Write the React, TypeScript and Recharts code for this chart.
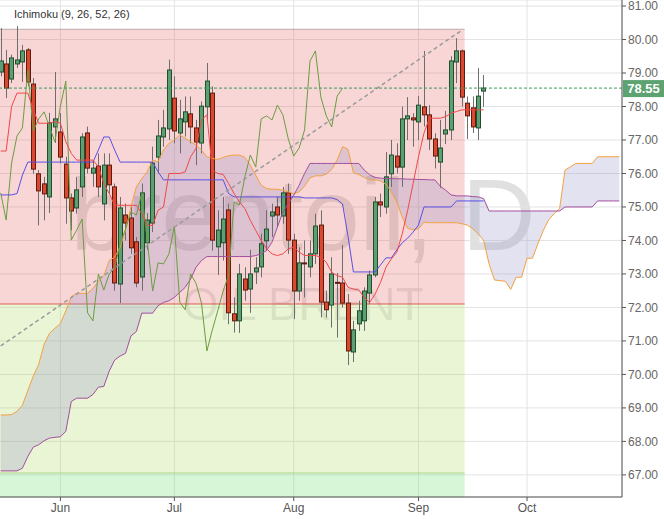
import {
  ComposedChart,
  Bar,
  Line,
  Area,
  XAxis,
  YAxis,
  CartesianGrid,
  ReferenceArea,
  ReferenceLine,
} from 'recharts';

// month ticks sit on the trading-day index of the first session of each month
const monthTicks = [11, 32, 54, 77, 97];
const monthLabels = ['Jun', 'Jul', 'Aug', 'Sep', 'Oct'];
const priceTicks = [67, 68, 69, 70, 71, 72, 73, 74, 75, 76, 77, 78, 79, 80, 81];

const opens = [
  79.03, 79.27, 78.82, 79.27, 79.33, 79.69, 78.67, 75.99, 75.69, 75.3,
  77.39, 77.24, 76.28, 75.27, 74.97, 75.6, 77.21, 76.01, 76.22, 75.09,
  76.25, 75.6, 72.7, 74.76, 74.67, 73.96, 72.91, 73.93, 74.52, 76.49,
  77.09, 77.33, 78.25, 77.21, 77.54, 77.78, 77.36, 76.91, 77.99, 78.4,
  73.81, 73.93, 74.91, 71.81, 71.6, 72.85, 72.55, 73.06, 73.21, 73.99,
  74.73, 75.0, 74.73, 75.42, 74.01, 72.49, 73.33, 73.21, 73.6, 74.46,
  72.16, 72.07, 72.75, 72.73, 72.13, 70.67, 71.51, 71.6, 72.43, 72.97,
  75.15, 75.0, 75.99, 76.52, 76.19, 77.63, 77.66, 77.54, 77.99, 77.75,
  77.03, 76.34, 77.18, 77.3, 79.33, 79.66, 78.1, 77.96, 77.36, 78.46,
];
const highs = [
  80.34, 79.69, 79.55, 80.4, 79.84, 79.75, 78.85, 76.1, 75.9, 77.81,
  79.03, 77.8, 76.5, 75.4, 75.9, 77.2, 77.4, 76.4, 76.6, 76.6,
  76.6, 75.7, 75.3, 75.1, 75.0, 74.1, 75.7, 74.82, 76.8, 77.6,
  77.9, 79.4, 78.9, 78.2, 78.3, 78.3, 77.6, 78.15, 79.3, 78.6,
  74.9, 75.3, 75.1, 72.3, 73.3, 73.2, 73.72, 73.5, 74.2, 74.9,
  75.1, 75.3, 75.6, 75.7, 74.2, 73.8, 74.0, 74.0, 74.8, 74.9,
  72.5, 73.5, 73.03, 73.87, 72.4, 71.6, 72.2, 72.6, 73.1, 75.3,
  75.4, 76.64, 77.0, 76.9, 78.0, 78.28, 77.8, 78.31, 79.66, 78.04,
  77.2, 77.6, 77.87, 79.5, 80.04, 79.7, 78.3, 78.3, 79.15, 78.94,
];
const lows = [
  78.9, 78.25, 78.7, 79.15, 78.73, 78.6, 75.99, 74.45, 74.6, 74.82,
  76.91, 76.3, 74.5, 74.3, 74.8, 75.3, 76.0, 75.6, 75.3, 74.6,
  75.4, 72.5, 72.13, 74.0, 73.6, 72.6, 72.5, 73.72, 74.25, 76.0,
  76.8, 77.0, 76.9, 76.6, 77.1, 76.9, 76.25, 76.6, 77.6, 73.7,
  72.97, 73.4, 71.5, 71.25, 71.24, 72.2, 71.84, 72.7, 72.9, 73.7,
  74.1, 74.4, 74.5, 73.6, 71.65, 72.2, 72.3, 72.9, 73.3, 71.7,
  71.7, 71.4, 71.1, 72.0, 70.28, 70.37, 71.3, 71.3, 72.1, 72.9,
  74.7, 74.8, 75.6, 76.0, 75.6, 77.0, 76.8, 77.0, 77.4, 76.7,
  76.15, 75.57, 76.88, 77.0, 78.7, 78.0, 77.03, 77.21, 77.0, 77.99,
];
const closes = [
  79.36, 78.55, 79.45, 79.39, 79.66, 78.73, 76.13, 75.48, 75.39, 77.51,
  77.63, 76.49, 75.27, 74.88, 75.51, 77.09, 76.16, 76.16, 75.6, 76.25,
  75.66, 72.73, 74.97, 74.52, 73.78, 72.73, 75.42, 74.61, 76.31, 77.12,
  77.36, 79.09, 77.27, 77.63, 77.84, 77.39, 76.94, 78.01, 78.76, 74.01,
  74.31, 74.64, 71.84, 71.6, 73.0, 72.52, 73.0, 73.18, 73.9, 74.34,
  74.85, 74.76, 75.42, 74.01, 72.49, 73.33, 73.3, 73.6, 74.43, 72.16,
  71.93, 73.0, 72.72, 72.13, 70.7, 71.33, 71.9, 72.49, 72.97, 75.15,
  75.06, 75.9, 76.55, 76.19, 77.63, 77.72, 77.6, 78.04, 77.75, 77.03,
  76.52, 76.76, 77.3, 79.36, 79.66, 78.28, 77.72, 77.39, 78.31, 78.55,
];

// conversion line (9)
const tenkan = [
  76.67, 76.67, 78.0, 78.4, 78.4, 78.4, 77.9, 77.5, 77.5, 77.5,
  77.55, 77.5, 76.95, 76.6, 76.4, 76.4, 76.4, 76.4, 76.2, 75.7,
  75.4, 75.05, 75.05, 75.05, 75.05, 75.05, 74.8, 74.45, 74.45, 74.9,
  75.0, 76.0, 76.0, 76.0, 76.05, 76.5, 76.75, 77.6, 77.75, 76.1,
  76.0, 75.97, 75.7, 75.4, 75.15, 74.95, 74.6, 74.3, 74.0, 73.75,
  73.6, 73.55, 73.6, 73.75, 73.8, 73.65, 73.55, 73.55, 73.55, 73.5,
  73.35, 73.05, 72.95, 72.9, 72.6, 72.55, 72.52, 72.3, 72.15, 72.4,
  72.75, 73.2, 73.45, 73.65, 74.2, 74.9, 75.7, 76.5, 77.2, 77.65,
  77.65, 77.65, 77.7, 77.8, 77.85, 77.9, 77.9, 77.9, 77.9, 77.9,
];
// base line (26)
const kijun = [
  75.36, 75.36, 75.36, 75.4, 75.95, 76.34, 76.34, 76.34, 76.34, 76.34,
  76.34, 76.34, 76.34, 76.34, 76.34, 76.34, 76.34, 76.34, 76.7, 77.09,
  77.09, 76.7, 76.34, 76.34, 76.34, 76.34, 76.34, 76.34, 76.34, 76.05,
  75.81, 75.81, 75.81, 75.81, 75.81, 75.81, 75.81, 75.81, 75.81, 75.81,
  75.81, 75.81, 75.4, 75.3, 75.3, 75.3, 75.3, 75.3, 75.3, 75.3,
  75.3, 75.3, 75.3, 75.3, 75.3, 75.3, 75.27, 75.27, 75.27, 75.27,
  75.27, 75.27, 75.22, 75.09, 74.13, 73.06, 73.06, 73.06, 73.06, 73.06,
  73.27, 73.48, 73.48, 73.72, 73.93, 74.07, 74.25, 74.46, 75.0, 75.0,
  75.0, 75.0, 75.0, 75.0, 75.18, 75.18, 75.18, 75.18, 75.18, 75.18,
];
// lagging span, drawn 26 sessions back
const chikou = [
  75.42, 74.61, 76.31, 77.12, 77.36, 79.09, 77.27, 77.63, 77.84, 77.39,
  76.94, 78.01, 78.76, 74.01, 74.31, 74.64, 71.84, 71.6, 73.0, 72.52,
  73.0, 73.18, 73.9, 74.34, 74.85, 74.76, 75.42, 74.01, 72.49, 73.33,
  73.3, 73.6, 74.43, 72.16, 71.93, 73.0, 72.72, 72.13, 70.7, 71.33,
  71.9, 72.49, 72.97, 75.15, 75.06, 75.9, 76.55, 76.19, 77.63, 77.72,
  77.6, 78.04, 77.75, 77.03, 76.52, 76.76, 77.3, 79.36, 79.66, 78.28,
  77.72, 77.39, 78.31, 78.55,
];
// leading spans, 26 sessions ahead
const senkouA = [
  68.79, 68.79, 68.8, 68.9, 69.08, 69.52, 69.95, 70.3, 70.9, 71.23,
  71.38, 71.52, 71.9, 72.32, 72.42, 72.42, 72.42, 72.57, 72.78, 72.95,
  73.4, 73.5, 73.8, 74.3, 75.0, 75.6, 75.85, 76.05, 76.4, 76.35,
  76.7, 76.9, 77.0, 77.15, 77.05, 76.95, 76.85, 76.7, 76.5, 76.45,
  76.42, 76.48, 76.53, 76.55, 76.55, 76.48, 76.25, 75.95, 75.65, 75.55,
  75.53, 75.53, 75.5, 75.45, 75.4, 75.45, 75.62, 75.87, 75.93, 75.93,
  75.98, 76.12, 76.4, 76.8, 76.72, 76.02, 75.97, 75.88, 75.81, 75.81,
  75.78, 75.68, 75.45, 75.15, 74.7, 74.36, 74.32, 74.35, 74.55, 74.53,
  74.53, 74.53, 74.53, 74.53, 74.53, 74.5, 74.46, 74.35, 74.2, 74.0,
  73.3, 72.82, 72.8, 72.78, 72.54, 72.9, 72.9, 73.47, 73.47, 73.9,
  74.3, 74.62, 74.8, 74.95, 76.1, 76.2, 76.3, 76.3, 76.3, 76.3,
  76.5, 76.5, 76.5, 76.5, 76.5,
];
const senkouB = [
  67.12, 67.12, 67.12, 67.12, 67.2, 67.55, 67.83, 67.9, 68.02, 68.1,
  68.12, 68.14, 68.3, 69.19, 69.29, 69.29, 69.29, 69.4, 69.62, 69.64,
  70.1, 70.43, 70.55, 70.63, 71.15, 71.28, 71.83, 71.83, 71.83, 72.05,
  72.15, 72.2, 72.3, 72.45, 72.6, 72.85, 73.2, 73.4, 73.52, 73.52,
  73.52, 73.52, 73.52, 73.52, 73.52, 73.52, 73.52, 73.55, 73.6, 73.7,
  73.95, 74.4, 74.85, 75.1, 75.35, 75.65, 76.0, 76.3, 76.3, 76.3,
  76.3, 76.3, 76.3, 76.3, 76.3, 76.3, 76.3, 76.1, 75.96, 75.88,
  75.86, 75.85, 75.85, 75.84, 75.84, 75.83, 75.83, 75.82, 75.82, 75.81,
  75.81, 75.62, 75.5, 75.36, 75.33, 75.33, 75.33, 75.31, 75.3, 75.25,
  74.88, 74.88, 74.88, 74.88, 74.88, 74.88, 74.88, 74.88, 74.88, 74.88,
  74.88, 74.88, 74.88, 74.88, 75.0, 75.0, 75.0, 75.0, 75.0, 75.0,
  75.18, 75.18, 75.18, 75.18, 75.18,
];

const lastPrice = 78.55;
// drawn objects: zones end on this session, prices of their borders
const zoneEnd = 85;
const zoneTop = 80.31;
const zoneMid = 72.1;
const zoneLow = 67.06;
const trendStart = 70.85;
const trendEnd = 80.28;
const yMin = 66.34;
const yMax = 81.18;

const data = senkouA.map((a, i) => ({
  i,
  open: opens[i],
  high: highs[i],
  low: lows[i],
  close: closes[i],
  range: highs[i] !== undefined ? [lows[i], highs[i]] : undefined,
  tenkan: tenkan[i],
  kijun: kijun[i],
  chikou: chikou[i],
  spanA: a,
  spanB: senkouB[i],
  cloud: [senkouB[i], a],
}));

const Candle = (props: any) => {
  const { x, y, width, height } = props;
  const d = props.payload || props;
  if (d.high === undefined || height === undefined) return null;
  const top = Math.min(y, y + height);
  const h = Math.abs(height);
  const k = d.high === d.low ? 0 : h / (d.high - d.low);
  const cx = Math.round(x + width / 2) + 0.5;
  const py = (v: number) => top + (d.high - v) * k;
  const up = d.close >= d.open;
  const bodyTop = py(Math.max(d.open, d.close));
  const bodyH = Math.max(py(Math.min(d.open, d.close)) - bodyTop, 1);
  return (
    <g>
      <line x1={cx} x2={cx} y1={top} y2={top + h} stroke="#6e6e6e" strokeWidth={1} />
      <rect
        x={cx - 2}
        y={bodyTop}
        width={4}
        height={bodyH}
        fill={up ? '#5d9f72' : '#d9482f'}
        stroke={up ? '#1f4f2c' : '#5e1c10'}
        strokeWidth={1}
      />
    </g>
  );
};

const PriceTag = (props: any) => {
  const vb = props.viewBox;
  if (!vb) return null;
  const x = vb.x + vb.width + 1;
  return (
    <g>
      <rect x={x} y={vb.y - 8} width={41} height={17} fill="#5da271" />
      <text x={x + 20.5} y={vb.y + 4.5} textAnchor="middle" fill="#fff" fontSize={13} fontWeight="bold">
        {lastPrice.toFixed(2)}
      </text>
    </g>
  );
};

export default function App() {
  return (
    <div
      style={{
        position: 'absolute',
        left: 0,
        top: 0,
        width: 664,
        height: 519,
        background: '#fff',
        overflow: 'hidden',
        fontFamily: 'Arial, "Liberation Sans", sans-serif',
      }}
    >
      <div
        style={{
          position: 'absolute',
          left: 0,
          top: 164,
          width: 606,
          textAlign: 'center',
          fontSize: 102,
          lineHeight: 1,
          color: 'rgba(0,0,0,0.12)',
          whiteSpace: 'nowrap',
        }}
      >
        brentoil, D
      </div>
      <div
        style={{
          position: 'absolute',
          left: 0,
          top: 281,
          width: 606,
          textAlign: 'center',
          fontSize: 46,
          lineHeight: 1,
          color: 'rgba(0,0,0,0.1)',
          whiteSpace: 'nowrap',
        }}
      >
        OIL BRENT
      </div>
      <div style={{ position: 'absolute', left: 0, top: 0 }}>
        <ComposedChart width={664} height={519} data={data} margin={{ top: 0, right: 0, bottom: 0, left: -2 }}>
          <CartesianGrid stroke="#e3e3e3" />
          <XAxis
            dataKey="i"
            type="category"
            ticks={monthTicks}
            interval={0}
            tickFormatter={(v) => monthLabels[monthTicks.indexOf(v)]}
            height={22}
            tick={{ fontSize: 12, fill: '#555' }}
            stroke="#555"
            tickSize={4}
          />
          <YAxis
            orientation="right"
            type="number"
            domain={[yMin, yMax]}
            allowDataOverflow
            ticks={priceTicks}
            interval={0}
            width={42}
            tickFormatter={(v) => v.toFixed(2)}
            tick={{ fontSize: 12, fill: '#666' }}
            stroke="#555"
            tickSize={4}
            tickMargin={2}
          />
          <ReferenceArea x1={0} x2={zoneEnd} y1={zoneMid} y2={zoneTop} fill="rgb(222,70,70)" fillOpacity={0.22} stroke="none" />
          <ReferenceArea x1={0} x2={zoneEnd} y1={zoneLow} y2={zoneMid} fill="rgb(160,210,70)" fillOpacity={0.22} stroke="none" />
          <ReferenceArea x1={0} x2={zoneEnd} y1={yMin} y2={zoneLow} fill="rgb(110,220,110)" fillOpacity={0.28} stroke="none" />
          <ReferenceArea x1={0} x2={zoneEnd} y1={zoneTop - 0.015} y2={zoneTop + 0.015} fill="#8c7272" stroke="none" />
          <ReferenceArea x1={0} x2={zoneEnd} y1={zoneMid - 0.022} y2={zoneMid + 0.022} fill="#d9301f" stroke="none" />
          <ReferenceArea x1={0} x2={zoneEnd} y1={zoneLow - 0.015} y2={zoneLow + 0.015} fill="#7dc244" stroke="none" />
          <Area
            dataKey="cloud"
            type="linear"
            stroke="none"
            fill="#8a8ac6"
            fillOpacity={0.25}
            activeDot={false}
            isAnimationActive={false}
          />
          <Line dataKey="spanA" type="linear" stroke="#f4a13f" strokeWidth={1} dot={false} activeDot={false} isAnimationActive={false} />
          <Line dataKey="spanB" type="linear" stroke="#a34f9e" strokeWidth={1} dot={false} activeDot={false} isAnimationActive={false} />
          <Line dataKey="chikou" type="linear" stroke="#6b9d3f" strokeWidth={1} dot={false} activeDot={false} isAnimationActive={false} />
          <Line dataKey="kijun" type="linear" stroke="#5a4fe3" strokeWidth={1} dot={false} activeDot={false} isAnimationActive={false} />
          <Line dataKey="tenkan" type="linear" stroke="#f04848" strokeWidth={1} dot={false} activeDot={false} isAnimationActive={false} />
          <Bar dataKey="range" shape={Candle} barSize={5} isAnimationActive={false} />
          <ReferenceLine
            segment={[
              { x: 0, y: trendStart },
              { x: zoneEnd, y: trendEnd },
            ]}
            stroke="#9a9a9a"
            strokeWidth={1.5}
            strokeDasharray="4 3"
            ifOverflow="visible"
          />
          <ReferenceLine y={lastPrice} stroke="#3e9a5c" strokeDasharray="3 2" label={PriceTag} />
        </ComposedChart>
      </div>
      <div style={{ position: 'absolute', left: 14, top: 8, fontSize: 11, color: '#333' }}>
        Ichimoku (9, 26, 52, 26)
      </div>
    </div>
  );
}
